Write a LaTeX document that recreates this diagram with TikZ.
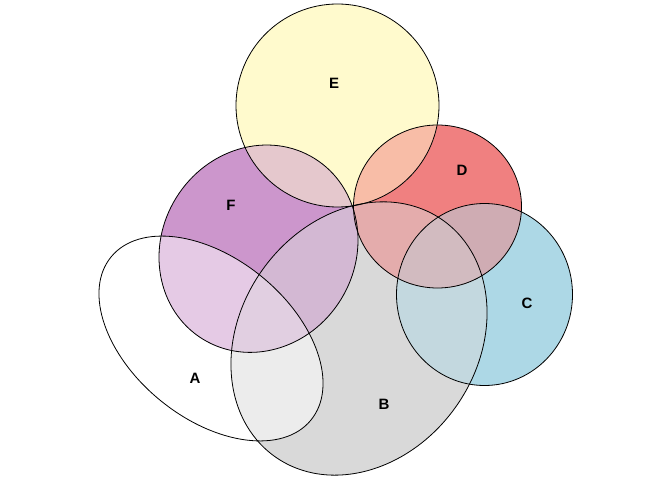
\documentclass[tikz,border=0pt]{standalone}
\usepackage{fontspec}
\setmainfont{Liberation Sans}
\definecolor{cA}{RGB}{255,255,255}
\definecolor{cB}{RGB}{217,217,217}
\definecolor{cC}{RGB}{173,216,230}
\definecolor{cD}{RGB}{240,128,128}
\definecolor{cE}{RGB}{255,250,205}
\definecolor{cF}{RGB}{204,150,204}
\newcommand{\shA}{(211,141.5) circle [x radius=129, y radius=80, rotate=-39.2]}
\newcommand{\shB}{(359,141.5) circle [x radius=145, y radius=118.5, rotate=54.5]}
\newcommand{\shC}{(484.5,185.5) circle [x radius=88, y radius=91]}
\newcommand{\shD}{(437.5,273.5) circle [x radius=84, y radius=81.5]}
\newcommand{\shE}{(337.5,374.5) circle [radius=101.5]}
\newcommand{\shF}{(258.5,231.3) circle [x radius=106.2, y radius=96.8, rotate=58.2]}
\newcommand{\pairfill}[4]{\begin{scope}\clip #1; \fill[#3!50!#4] #2;\end{scope}}
\newcommand{\triplefill}[6]{\begin{scope}\clip #1; \clip #2; \colorlet{tmpmix}{#4!50!#5}\fill[tmpmix!66.67!#6] #3;\end{scope}}
\tikzset{outline/.style={draw=black, line width=0.8pt}, lbl/.style={font=\fontsize{15}{18}\selectfont\bfseries}}
\begin{document}
\begin{tikzpicture}[x=1pt,y=1pt]
\useasboundingbox (0,0) rectangle (672,480);
% single regions
\fill[cA] \shA;
\fill[cB] \shB;
\fill[cC] \shC;
\fill[cD] \shD;
\fill[cE] \shE;
\fill[cF] \shF;
% pair regions
\pairfill{\shA}{\shB}{cA}{cB}
\pairfill{\shA}{\shF}{cA}{cF}
\pairfill{\shB}{\shF}{cB}{cF}
\pairfill{\shB}{\shC}{cB}{cC}
\pairfill{\shB}{\shD}{cB}{cD}
\pairfill{\shC}{\shD}{cC}{cD}
\pairfill{\shD}{\shE}{cD}{cE}
\pairfill{\shE}{\shF}{cE}{cF}
\pairfill{\shB}{\shE}{cB}{cE}
\pairfill{\shD}{\shF}{cD}{cF}
% triple regions
\triplefill{\shA}{\shB}{\shF}{cA}{cB}{cF}
\triplefill{\shB}{\shC}{\shD}{cB}{cC}{cD}
\triplefill{\shB}{\shD}{\shF}{cB}{cD}{cF}
\triplefill{\shB}{\shD}{\shE}{cB}{cD}{cE}
\triplefill{\shD}{\shE}{\shF}{cD}{cE}{cF}
\triplefill{\shB}{\shE}{\shF}{cB}{cE}{cF}
% outlines
\draw[outline] \shA;
\draw[outline] \shB;
\draw[outline] \shC;
\draw[outline] \shD;
\draw[outline] \shE;
\draw[outline] \shF;
% labels
\node[lbl] (labA) at (195,102) {A};
\node[lbl] (labB) at (384,76) {B};
\node[lbl] (labC) at (527,177) {C};
\node[lbl] (labD) at (462,310) {D};
\node[lbl] (labE) at (334,397) {E};
\node[lbl] (labF) at (231,275) {F};
\end{tikzpicture}
\end{document}
